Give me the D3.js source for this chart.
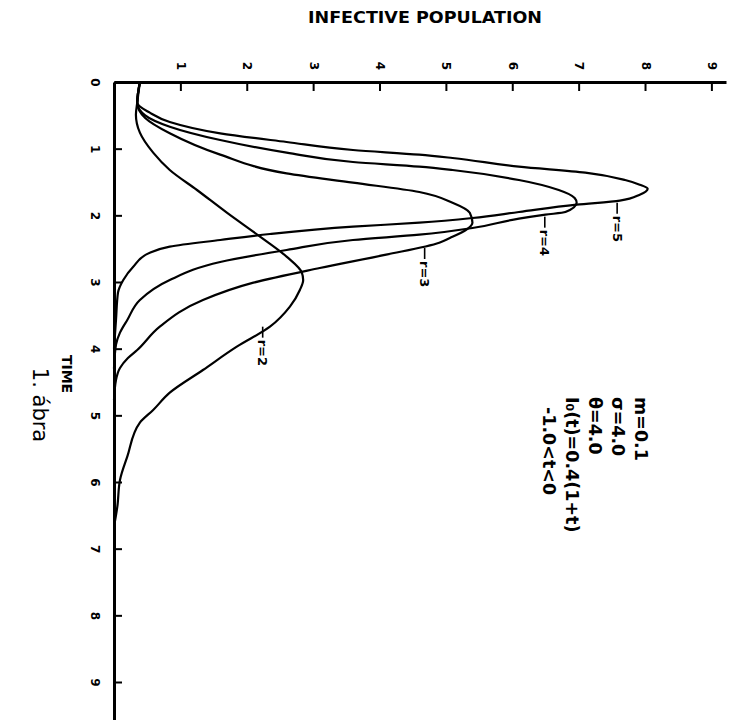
<!DOCTYPE html>
<html>
<head>
<meta charset="utf-8">
<script src="https://cdn.jsdelivr.net/npm/d3@7"></script>
<style>
  body { margin: 0; background: #fff; }
  .axis path, .axis line { stroke: #000; }
  .axis text { font-family: "DejaVu Sans", sans-serif; font-weight: bold; fill: #000; }
</style>
</head>
<body>
<div id="chart"></div>
<script>
// Tick values for both axes
var popTicks = [1, 2, 3, 4, 5, 6, 7, 8, 9];
var timeTicks = [0, 1, 2, 3, 4, 5, 6, 7, 8, 9];

// Curve names and [time, infective] points
var curveNames = ["r=2", "r=3", "r=4", "r=5"];

var r2 = [[0, 0.39], [0.31, 0.35], [0.49, 0.33], [0.76, 0.39], [1.06, 0.59], [1.32, 0.84],
  [1.62, 1.25], [1.96, 1.7], [2.32, 2.2], [2.62, 2.6], [2.86, 2.83], [2.97, 2.85],
  [3.12, 2.8], [3.37, 2.65], [3.67, 2.35], [3.97, 1.85], [4.32, 1.34], [4.66, 0.84],
  [4.92, 0.59], [5.11, 0.39], [5.62, 0.2], [5.97, 0.09], [6.37, 0.05], [6.67, 0]];

var r3 = [[0, 0.39], [0.31, 0.35], [0.54, 0.47], [0.77, 0.84], [1.09, 1.6], [1.37, 2.6],
  [1.51, 3.6], [1.65, 4.6], [1.81, 5.1], [1.96, 5.36], [2.11, 5.4], [2.22, 5.3],
  [2.34, 5.06], [2.41, 4.9], [2.59, 4.1], [2.79, 3.1], [3.01, 2.1],
  [3.27, 1.34], [3.67, 0.69], [4.02, 0.35], [4.14, 0.21], [4.29, 0.09], [4.47, 0.03], [4.77, 0]];

var r4 = [[0, 0.39], [0.31, 0.35], [0.5, 0.47], [0.67, 0.84], [0.87, 1.6], [1.06, 2.6],
  [1.2, 3.6], [1.27, 4.6], [1.32, 5.1], [1.47, 6.1], [1.62, 6.7], [1.74, 6.94],
  [1.81, 6.97], [1.95, 6.8], [1.99, 6.5], [2.05, 6.1], [2.19, 5.4], [2.29, 4.6],
  [2.37, 3.6], [2.52, 2.6], [2.7, 1.6], [2.97, 0.84], [3.27, 0.39], [3.57, 0.2],
  [3.76, 0.09], [3.94, 0.03], [4.3, 0]];

var r5 = [[0, 0.39], [0.31, 0.35], [0.46, 0.54], [0.6, 0.84], [0.77, 1.6], [0.9, 2.6],
  [1.02, 3.6], [1.09, 4.6], [1.14, 5.1], [1.27, 6.1], [1.36, 7.1], [1.47, 7.7],
  [1.54, 7.92], [1.6, 8.04], [1.69, 7.92], [1.78, 7.62], [1.84, 6.97], [1.95, 6.1],
  [2.04, 5.4], [2.11, 4.6], [2.17, 3.6], [2.28, 2.35], [2.37, 1.6], [2.47, 0.84],
  [2.56, 0.54], [2.77, 0.29], [2.97, 0.14], [3.16, 0.06], [3.57, 0.03], [4.0, 0]];

// where each curve label hangs from its curve [time, infective]
var labelAt = [[3.67, 2.24], [2.49, 4.68], [2.02, 6.49], [1.81, 7.58]];

// parameter block, first line is the rightmost column
var paramLines = ["m=0.1", "\u03c3=4.0", "\u03b8=4.0", "I\u2080(t)=0.4(1+t)", "-1.0<t<0"];

var width = 733, height = 720;

var svg = d3.select("#chart").append("svg")
  .attr("width", width)
  .attr("height", height)
  .style("background", "#fff");

// infective population runs left->right, time runs top->bottom
var x = d3.scaleLinear().domain([0, 9.22]).range([114, 726]);
var y = d3.scaleLinear().domain([0, 9.57]).range([82, 720]);

// Top axis (population)
var gx = svg.append("g")
  .attr("class", "axis")
  .attr("transform", "translate(0," + y(0) + ")")
  .call(d3.axisTop(x).tickValues(popTicks).tickSizeInner(-9).tickSizeOuter(0).tickPadding(0));
gx.select(".domain").attr("stroke-width", 3);
gx.selectAll(".tick line").attr("stroke-width", 2);
gx.selectAll(".tick text")
  .attr("y", null).attr("dy", null)
  .attr("transform", "translate(0,-16) rotate(90)")
  .attr("text-anchor", "middle")
  .attr("dominant-baseline", "central")
  .style("font-size", "12px");

// Left axis (time)
var gy = svg.append("g")
  .attr("class", "axis")
  .attr("transform", "translate(" + x(0) + ",0)")
  .call(d3.axisLeft(y).tickValues(timeTicks).tickSizeInner(-8).tickSizeOuter(0).tickPadding(0));
gy.select(".domain").attr("stroke-width", 3);
gy.selectAll(".tick line").attr("stroke-width", 2);
gy.selectAll(".tick text")
  .attr("x", null).attr("dy", null)
  .attr("transform", "translate(-19,0) rotate(90)")
  .attr("text-anchor", "middle")
  .attr("dominant-baseline", "central")
  .style("font-size", "12px");

// Curves
var line = d3.line()
  .x(function(d) { return x(d[1]); })
  .y(function(d) { return y(d[0]); })
  .curve(d3.curveMonotoneY);

svg.selectAll("path.curve")
  .data([r2, r3, r4, r5])
  .enter().append("path")
  .attr("class", "curve")
  .attr("fill", "none")
  .attr("stroke", "#000")
  .attr("stroke-width", 2.2)
  .attr("stroke-linejoin", "round")
  .attr("d", line);

// Curve labels with little hanging ticks
var lab = svg.selectAll("g.rlab")
  .data(curveNames)
  .enter().append("g")
  .attr("class", "rlab")
  .attr("transform", function(d, i) {
    return "translate(" + x(labelAt[i][1]) + "," + y(labelAt[i][0]) + ")";
  });
lab.append("line")
  .attr("x1", 0).attr("y1", 0).attr("x2", 0).attr("y2", 11)
  .attr("stroke", "#000").attr("stroke-width", 1.6);
lab.append("text")
  .attr("transform", "translate(0,13) rotate(90)")
  .attr("dominant-baseline", "central")
  .attr("font-family", "DejaVu Sans, sans-serif")
  .attr("font-weight", "bold")
  .attr("font-size", 13)
  .text(function(d) { return d; });

// Parameter block
svg.selectAll("text.param")
  .data(paramLines)
  .enter().append("text")
  .attr("class", "param")
  .attr("transform", function(d, i) {
    var top = i == paramLines.length - 1 ? 407 : 397;
    return "translate(" + (641 - 23 * i) + "," + top + ") rotate(90)";
  })
  .attr("dominant-baseline", "central")
  .attr("font-family", "DejaVu Sans, sans-serif")
  .attr("font-weight", "bold")
  .attr("font-size", 17.5)
  .text(function(d) { return d; });

// Titles
svg.append("text")
  .attr("x", 308).attr("y", 23)
  .attr("textLength", 234)
  .attr("lengthAdjust", "spacingAndGlyphs")
  .attr("font-family", "DejaVu Sans, sans-serif")
  .attr("font-weight", "bold")
  .attr("font-size", 16)
  .text("INFECTIVE POPULATION");

svg.append("text")
  .attr("transform", "translate(67,374) rotate(90)")
  .attr("text-anchor", "middle")
  .attr("dominant-baseline", "central")
  .attr("font-family", "DejaVu Sans, sans-serif")
  .attr("font-weight", "bold")
  .attr("font-size", 14)
  .text("TIME");

svg.append("text")
  .attr("transform", "translate(40,405) rotate(90)")
  .attr("text-anchor", "middle")
  .attr("dominant-baseline", "central")
  .attr("font-family", "DejaVu Sans, sans-serif")
  .attr("font-size", 21)
  .text("1. \u00e1bra");
</script>
</body>
</html>
